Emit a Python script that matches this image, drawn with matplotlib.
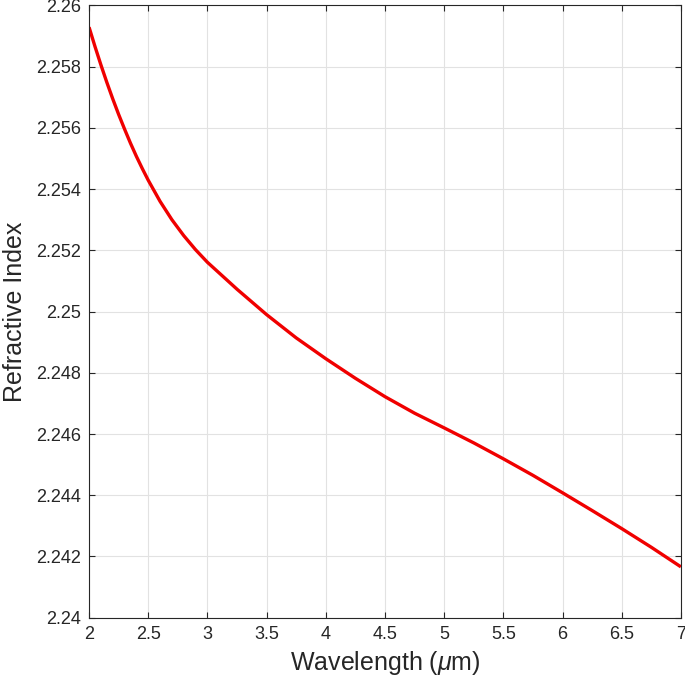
import matplotlib
matplotlib.use("Agg")
import matplotlib.pyplot as plt
from matplotlib.ticker import FuncFormatter, MultipleLocator

wavelength = [2.0, 2.05, 2.1, 2.15, 2.2, 2.25, 2.3, 2.35, 2.4, 2.45, 2.5,
              2.6, 2.7, 2.8, 2.9, 3.0, 3.25, 3.5, 3.75, 4.0, 4.25, 4.5, 4.75,
              5.0, 5.25, 5.5, 5.75, 6.0, 6.25, 6.5, 6.75, 7.0]
refractive_index = [2.25929, 2.25866, 2.25806, 2.25749, 2.25695, 2.25644,
                    2.25596, 2.25550, 2.25507, 2.25467, 2.25429,
                    2.25360, 2.25300, 2.25248, 2.25202, 2.25161, 2.25073,
                    2.24990, 2.24914, 2.24846, 2.24782, 2.24722, 2.24668,
                    2.24620, 2.24571, 2.24519, 2.24465, 2.24408, 2.24350,
                    2.24291, 2.24230, 2.24166]

plt.rcParams['font.family'] = ['Liberation Sans', 'DejaVu Sans']
plt.rcParams['mathtext.fontset'] = 'custom'
plt.rcParams['mathtext.rm'] = 'Liberation Sans'
plt.rcParams['mathtext.it'] = 'Liberation Sans:italic'

fig = plt.figure(figsize=(6.85, 6.81), dpi=100)
ax = fig.add_axes([0.130, 0.093, 0.864, 0.899])

ax.plot(wavelength, refractive_index, color='#f00000', lw=2.4,
        solid_joinstyle='round', solid_capstyle='butt')

ax.set_xlim(2, 7)
ax.set_ylim(2.24, 2.26)
ax.xaxis.set_major_locator(MultipleLocator(0.5))
ax.yaxis.set_major_locator(MultipleLocator(0.002))

def fmt(v, pos):
    return f"{v:.3f}".rstrip('0').rstrip('.')

ax.xaxis.set_major_formatter(FuncFormatter(lambda v, p: f"{v:g}"))
ax.yaxis.set_major_formatter(FuncFormatter(fmt))

edge = '#262626'
for sp in ax.spines.values():
    sp.set_color(edge)
    sp.set_linewidth(0.8)

ax.tick_params(direction='in', length=4, width=0.8, colors=edge, labelsize=13,
               top=True, right=True, labeltop=False, labelright=False)
ax.tick_params(axis='x', pad=6)
ax.tick_params(axis='y', pad=6)

ax.grid(True, color='#e2e2e2', lw=0.8)
ax.set_axisbelow(True)

ax.set_xlabel(r'Wavelength ($\mu$m)', fontsize=18, color=edge, labelpad=4)
ax.set_ylabel('Refractive Index', fontsize=18, color=edge, labelpad=6)

fig.savefig('out.png', dpi=100, facecolor='white')
